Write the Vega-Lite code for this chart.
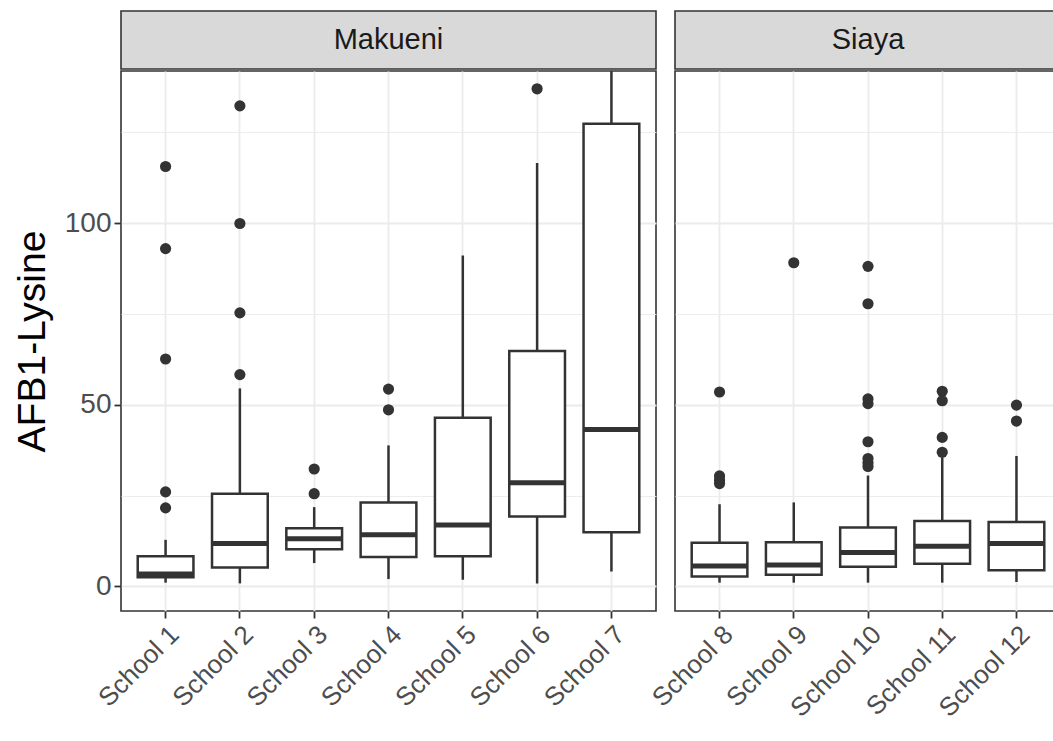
{
  "$schema": "https://vega.github.io/schema/vega-lite/v6.json",
  "background": "white",
  "padding": {"left": 12, "top": 10, "right": -8, "bottom": 4},
  "spacing": -11,
  "config": {
    "font": "Liberation Sans",
    "view": {"stroke": "#333333", "strokeWidth": 1.6},
    "concat": {"spacing": 0},
    "axis": {
      "labelFont": "Liberation Sans",
      "titleFont": "Liberation Sans",
      "labelColor": "#4D4D4D",
      "labelFontSize": 28,
      "tickColor": "#333333",
      "tickWidth": 1.8,
      "tickSize": 7,
      "labelPadding": 4,
      "domain": false,
      "gridColor": "#EBEBEB",
      "minExtent": 0
    },
    "axisY": {"minExtent": 0}
  },
  "datasets": {
    "boxes": [
      {"county": "Makueni", "school": "School 1", "lower": 1.0, "q1": 2.5, "median": 3.4, "q3": 8.3, "upper": 12.8},
      {"county": "Makueni", "school": "School 2", "lower": 0.8, "q1": 5.2, "median": 11.8, "q3": 25.5, "upper": 54.5},
      {"county": "Makueni", "school": "School 3", "lower": 6.4, "q1": 10.2, "median": 13.1, "q3": 16.0, "upper": 21.8},
      {"county": "Makueni", "school": "School 4", "lower": 2.0, "q1": 8.1, "median": 14.2, "q3": 23.1, "upper": 38.8},
      {"county": "Makueni", "school": "School 5", "lower": 1.8, "q1": 8.3, "median": 16.9, "q3": 46.4, "upper": 91.1},
      {"county": "Makueni", "school": "School 6", "lower": 0.8, "q1": 19.2, "median": 28.5, "q3": 64.8, "upper": 116.6},
      {"county": "Makueni", "school": "School 7", "lower": 4.1, "q1": 14.9, "median": 43.2, "q3": 127.4, "upper": 160.0},
      {"county": "Siaya", "school": "School 8", "lower": 1.0, "q1": 2.7, "median": 5.6, "q3": 12.0, "upper": 22.6},
      {"county": "Siaya", "school": "School 9", "lower": 1.0, "q1": 3.2, "median": 5.9, "q3": 12.1, "upper": 23.1},
      {"county": "Siaya", "school": "School 10", "lower": 1.0, "q1": 5.4, "median": 9.3, "q3": 16.2, "upper": 30.5},
      {"county": "Siaya", "school": "School 11", "lower": 1.0, "q1": 6.2, "median": 11.0, "q3": 18.0, "upper": 35.4},
      {"county": "Siaya", "school": "School 12", "lower": 1.2, "q1": 4.4, "median": 11.8, "q3": 17.7, "upper": 35.9}
    ],
    "outliers": [
      {"county": "Makueni", "school": "School 1", "value": 115.6},
      {"county": "Makueni", "school": "School 1", "value": 93.0},
      {"county": "Makueni", "school": "School 1", "value": 62.6},
      {"county": "Makueni", "school": "School 1", "value": 26.0},
      {"county": "Makueni", "school": "School 1", "value": 21.6},
      {"county": "Makueni", "school": "School 2", "value": 132.3},
      {"county": "Makueni", "school": "School 2", "value": 99.9},
      {"county": "Makueni", "school": "School 2", "value": 75.3},
      {"county": "Makueni", "school": "School 2", "value": 58.3},
      {"county": "Makueni", "school": "School 3", "value": 32.3},
      {"county": "Makueni", "school": "School 3", "value": 25.5},
      {"county": "Makueni", "school": "School 4", "value": 54.3},
      {"county": "Makueni", "school": "School 4", "value": 48.6},
      {"county": "Makueni", "school": "School 6", "value": 137.0},
      {"county": "Siaya", "school": "School 8", "value": 53.5},
      {"county": "Siaya", "school": "School 8", "value": 30.4},
      {"county": "Siaya", "school": "School 8", "value": 29.3},
      {"county": "Siaya", "school": "School 8", "value": 28.3},
      {"county": "Siaya", "school": "School 9", "value": 89.1},
      {"county": "Siaya", "school": "School 10", "value": 88.1},
      {"county": "Siaya", "school": "School 10", "value": 77.8},
      {"county": "Siaya", "school": "School 10", "value": 51.6},
      {"county": "Siaya", "school": "School 10", "value": 50.3},
      {"county": "Siaya", "school": "School 10", "value": 39.8},
      {"county": "Siaya", "school": "School 10", "value": 35.2},
      {"county": "Siaya", "school": "School 10", "value": 34.0},
      {"county": "Siaya", "school": "School 10", "value": 33.0},
      {"county": "Siaya", "school": "School 11", "value": 53.7},
      {"county": "Siaya", "school": "School 11", "value": 51.1},
      {"county": "Siaya", "school": "School 11", "value": 41.0},
      {"county": "Siaya", "school": "School 11", "value": 36.9},
      {"county": "Siaya", "school": "School 12", "value": 49.9},
      {"county": "Siaya", "school": "School 12", "value": 45.5}
    ]
  },
  "hconcat": [
    {
      "vconcat": [
        {
          "width": 535,
          "height": 58,
          "data": {"values": [{"county": "Makueni"}]},
          "view": {"fill": "#D9D9D9", "stroke": "#333333", "strokeWidth": 1.6},
          "mark": {"type": "text", "fontSize": 29, "color": "#1A1A1A", "baseline": "middle", "align": "center"},
          "encoding": {"text": {"field": "county"}}
        },
        {
          "width": 535,
          "height": 540,
          "encoding": {
            "x": {
              "field": "school",
              "type": "nominal",
              "sort": null,
              "scale": {"type": "band", "paddingInner": 0, "paddingOuter": 0.1},
              "axis": {"title": null, "bandPosition": 0.5, "grid": true, "gridWidth": 1.8, "labelAngle": -45, "labelAlign": "right", "labelBaseline": "top", "labelPadding": 3, "labelFontSize": 26}
            }
          },
          "layer": [
            {
              "data": {"name": "boxes"},
              "transform": [{"filter": "datum.county === 'Makueni'"}],
              "mark": {"type": "rule", "stroke": "#333333", "strokeWidth": 2.5, "clip": true},
              "encoding": {
                "y": {
                  "field": "lower",
                  "type": "quantitative",
                  "scale": {"domain": [-6.8, 141.9], "nice": false, "zero": false},
                  "axis": {
                    "title": "AFB1-Lysine",
                    "titleFontSize": 39,
                    "titleFontWeight": "normal",
                    "titleColor": "#000000",
                    "titlePadding": 12,
                    "labelPadding": 3,
                    "values": [0, 25, 50, 75, 100, 125],
                    "labelExpr": "datum.value % 50 === 0 ? datum.label : ''",
                    "tickOpacity": {"condition": {"test": "datum.value % 50 === 0", "value": 1}, "value": 0},
                    "gridWidth": {"condition": {"test": "datum.value % 50 === 0", "value": 1.8}, "value": 0.9}
                  }
                },
                "y2": {"field": "upper"}
              }
            },
            {
              "data": {"name": "boxes"},
              "transform": [{"filter": "datum.county === 'Makueni'"}],
              "mark": {"type": "bar", "fill": "white", "stroke": "#333333", "strokeWidth": 2.5, "width": {"band": 0.75}, "clip": true},
              "encoding": {
                "y": {"field": "q1", "type": "quantitative"},
                "y2": {"field": "q3"}
              }
            },
            {
              "data": {"name": "boxes"},
              "transform": [{"filter": "datum.county === 'Makueni'"}],
              "mark": {"type": "tick", "color": "#333333", "thickness": 5, "size": 56, "opacity": 1, "clip": true},
              "encoding": {
                "y": {"field": "median", "type": "quantitative"}
              }
            },
            {
              "data": {"name": "outliers"},
              "transform": [{"filter": "datum.county === 'Makueni'"}],
              "mark": {"type": "circle", "color": "#333333", "opacity": 1, "size": 125, "clip": true},
              "encoding": {
                "y": {"field": "value", "type": "quantitative"}
              }
            }
          ]
        }
      ]
    },
    {
      "vconcat": [
        {
          "width": 386,
          "height": 58,
          "data": {"values": [{"county": "Siaya"}]},
          "view": {"fill": "#D9D9D9", "stroke": "#333333", "strokeWidth": 1.6},
          "mark": {"type": "text", "fontSize": 29, "color": "#1A1A1A", "baseline": "middle", "align": "center"},
          "encoding": {"text": {"field": "county"}}
        },
        {
          "width": 386,
          "height": 540,
          "encoding": {
            "x": {
              "field": "school",
              "type": "nominal",
              "sort": null,
              "scale": {"type": "band", "paddingInner": 0, "paddingOuter": 0.1},
              "axis": {"title": null, "bandPosition": 0.5, "grid": true, "gridWidth": 1.8, "labelAngle": -45, "labelAlign": "right", "labelBaseline": "top", "labelPadding": 3, "labelFontSize": 26}
            }
          },
          "layer": [
            {
              "data": {"name": "boxes"},
              "transform": [{"filter": "datum.county === 'Siaya'"}],
              "mark": {"type": "rule", "stroke": "#333333", "strokeWidth": 2.5, "clip": true},
              "encoding": {
                "y": {
                  "field": "lower",
                  "type": "quantitative",
                  "scale": {"domain": [-6.8, 141.9], "nice": false, "zero": false},
                  "axis": {
                    "title": null,
                    "labels": false,
                    "ticks": false,
                    "minExtent": 0,
                    "maxExtent": 0,
                    "values": [0, 25, 50, 75, 100, 125],
                    "gridWidth": {"condition": {"test": "datum.value % 50 === 0", "value": 1.8}, "value": 0.9}
                  }
                },
                "y2": {"field": "upper"}
              }
            },
            {
              "data": {"name": "boxes"},
              "transform": [{"filter": "datum.county === 'Siaya'"}],
              "mark": {"type": "bar", "fill": "white", "stroke": "#333333", "strokeWidth": 2.5, "width": {"band": 0.75}, "clip": true},
              "encoding": {
                "y": {"field": "q1", "type": "quantitative"},
                "y2": {"field": "q3"}
              }
            },
            {
              "data": {"name": "boxes"},
              "transform": [{"filter": "datum.county === 'Siaya'"}],
              "mark": {"type": "tick", "color": "#333333", "thickness": 5, "size": 56, "opacity": 1, "clip": true},
              "encoding": {
                "y": {"field": "median", "type": "quantitative"}
              }
            },
            {
              "data": {"name": "outliers"},
              "transform": [{"filter": "datum.county === 'Siaya'"}],
              "mark": {"type": "circle", "color": "#333333", "opacity": 1, "size": 125, "clip": true},
              "encoding": {
                "y": {"field": "value", "type": "quantitative"}
              }
            }
          ]
        }
      ]
    }
  ]
}
